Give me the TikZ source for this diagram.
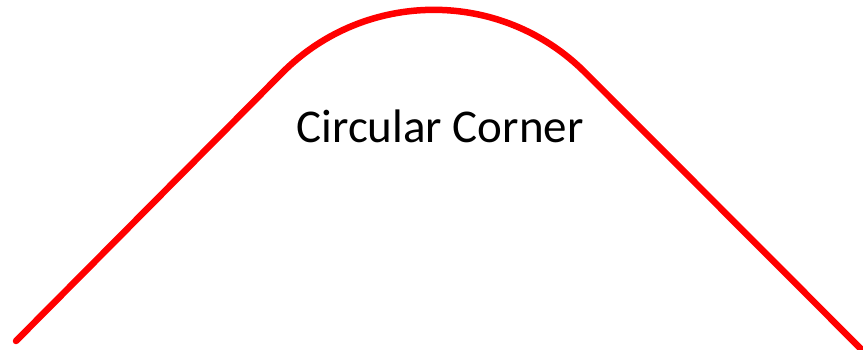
\documentclass[tikz,border=0pt]{standalone}
\usepackage{fontspec}
\setmainfont{Carlito}
\begin{document}
\begin{tikzpicture}[x=1pt,y=1pt,
  curve/.style={draw={rgb,255:red,255;green,0;blue,0}, line width=6.5pt, line cap=round, line join=round},
  label/.style={inner sep=0pt, font=\fontsize{47}{56}\selectfont, text=black}]
\useasboundingbox (0,0) rectangle (863,350);
\coordinate (start) at (16,9);
\coordinate (tl) at (282.5,277.5);
\coordinate (finish) at (868,-6);
\draw[curve] (start) -- (tl) arc[start angle=135, end angle=45, radius=214] -- (finish);
\node[label, anchor=base] (txt) at (440,207) {Circular Corner};
\end{tikzpicture}
\end{document}
